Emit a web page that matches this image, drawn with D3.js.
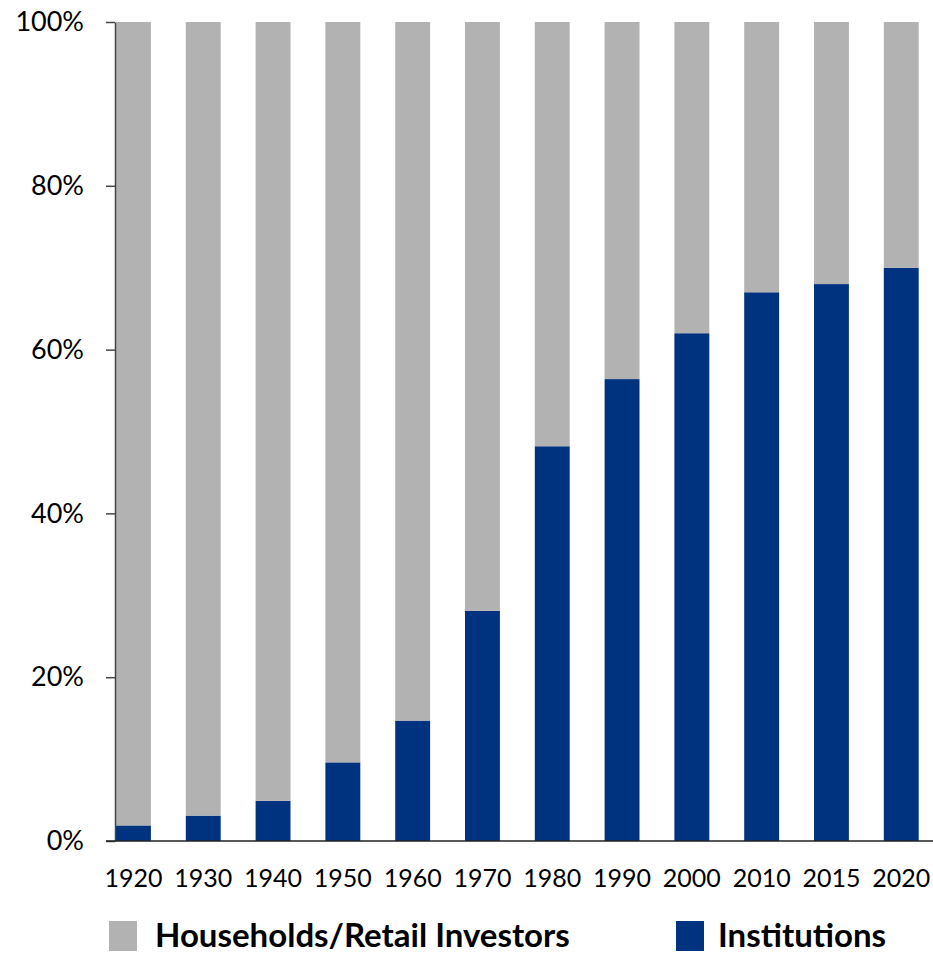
<!DOCTYPE html>
<html>
<head>
<meta charset="utf-8">
<script src="https://cdn.jsdelivr.net/npm/d3@7"></script>
<style>
  html, body { margin: 0; padding: 0; background: #fff; }
  svg { display: block; font-family: Lato, "Open Sans", sans-serif; }
</style>
</head>
<body>
<svg id="chart" width="933" height="955"></svg>
<script>
// Share of equity ownership by holder type, in percent
const years = ["1920", "1930", "1940", "1950", "1960", "1970", "1980", "1990", "2000", "2010", "2015", "2020"];
const institutions = [1.9, 3.1, 4.9, 9.6, 14.7, 28.1, 48.2, 56.4, 62.0, 67.0, 68.0, 70.0];
const households = institutions.map(v => 100 - v);
const yTicks = [0, 20, 40, 60, 80, 100];
const seriesNames = ["Households/Retail Investors", "Institutions"];
const seriesColors = ["#b2b2b2", "#00337f"];

const svg = d3.select("#chart");

const x = d3.scaleBand()
  .domain(years)
  .range([98.55, 936.15])
  .paddingInner(0.5)
  .paddingOuter(0.25);

const y = d3.scaleLinear().domain([0, 100]).range([841, 22]);

const rows = years.map((yr, i) => ({ year: yr, inst: institutions[i], hh: households[i] }));
const stack = d3.stack().keys(["inst", "hh"])(rows);

svg.append("g")
  .selectAll("g")
  .data(stack)
  .join("g")
  .attr("fill", (d, i) => seriesColors[1 - i])
  .selectAll("rect")
  .data(d => d)
  .join("rect")
  .attr("x", d => x(d.data.year))
  .attr("width", x.bandwidth())
  .attr("y", d => y(d[1]))
  .attr("height", d => y(d[0]) - y(d[1]));

// y axis
const yAxis = svg.append("g")
  .attr("transform", "translate(115,0)")
  .call(d3.axisLeft(y).tickValues(yTicks).tickFormat(d => d + "%").tickSize(9).tickSizeOuter(0));
yAxis.select(".domain").attr("stroke", "#444").attr("stroke-width", 1.5);
yAxis.selectAll(".tick line").attr("stroke", "#444").attr("stroke-width", 1.5);
yAxis.selectAll(".tick text")
  .attr("x", -31)
  .attr("fill", "#000")
  .style("font-size", "27px")
  .style("font-family", "Lato, sans-serif");

// x axis baseline
svg.append("line")
  .attr("x1", 106).attr("x2", 933)
  .attr("y1", y(0)).attr("y2", y(0))
  .attr("stroke", "#222").attr("stroke-width", 1.5);

// x labels
svg.append("g")
  .selectAll("text")
  .data(years)
  .join("text")
  .attr("x", d => x(d) + x.bandwidth() / 2)
  .attr("y", 887)
  .attr("text-anchor", "middle")
  .style("font-size", "25px")
  .attr("fill", "#000")
  .text(d => d);

// legend
const legend = [
  { name: seriesNames[0], color: seriesColors[0], sx: 109, tx: 155 },
  { name: seriesNames[1], color: seriesColors[1], sx: 676, tx: 718 }
];
const lg = svg.append("g").selectAll("g").data(legend).join("g");
lg.append("rect")
  .attr("x", d => d.sx).attr("y", 921)
  .attr("width", 28).attr("height", 30)
  .attr("fill", d => d.color);
lg.append("text")
  .attr("x", d => d.tx).attr("y", 947)
  .style("font-size", "33px")
  .style("font-weight", "bold")
  .attr("fill", "#000")
  .text(d => d.name);
</script>
</body>
</html>
